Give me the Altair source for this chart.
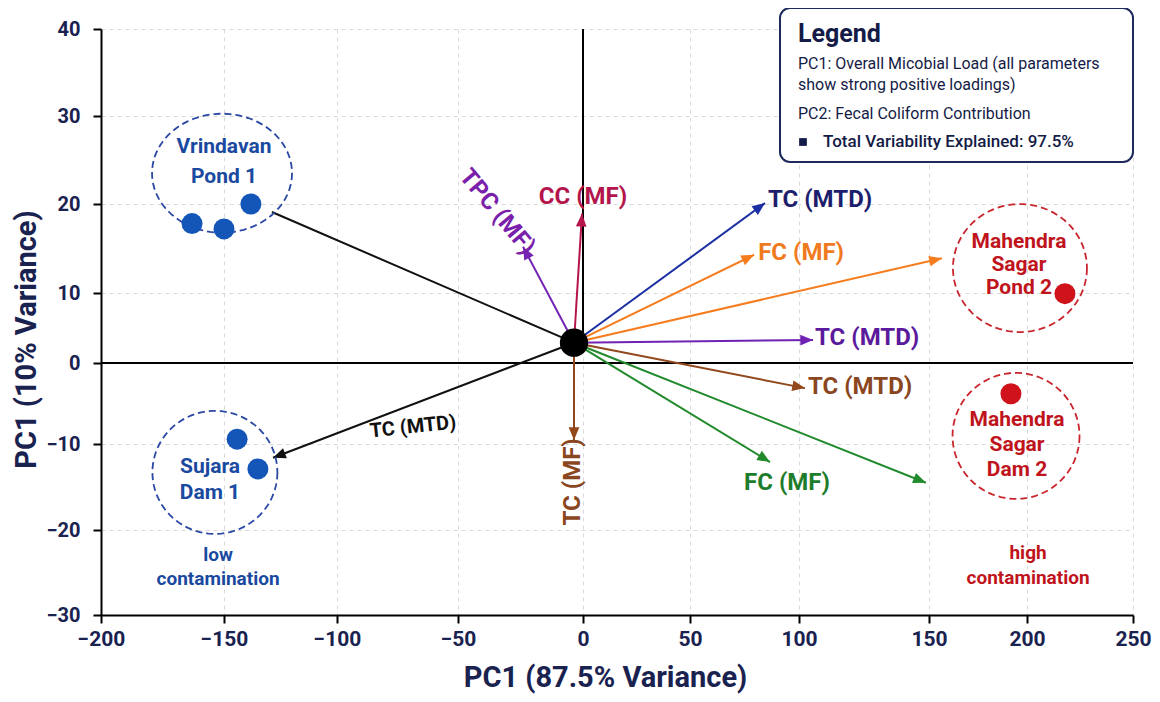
import math
import numpy as np
import pandas as pd
import altair as alt

# ---------------- data ----------------
X_TICKS = [-200, -150, -100, -50, 0, 50, 100, 150, 200, 250]
Y_TICKS = [-30, -20, -10, 0, 10, 20, 30, 40]
# the reference's tick marks are unevenly spaced: piecewise scale ranges (px inside plot)
X_RANGE = [0, 123, 236, 357, 482, 589, 698, 828, 926, 1032]
Y_RANGE = [586, 501, 415, 334, 264, 175, 87, 0]

ORIGIN_X = -3.6
ORIGIN_Y = 2.9

arrow_id = ["tpc_mf", "cc_mf", "tc_mtd_blue", "fc_mf_orange", "fc_orange_long",
            "tc_mtd_purple", "tc_mtd_brown", "fc_mf_green", "fc_green_long",
            "tc_mf_brown", "to_vrindavan", "to_sujara"]
arrow_x = [-24.0, -0.4, 84.4, 79.4, 156.6, 105.4, 102.3, 86.7, 148.8, -3.6, -128.8, -128.3]
arrow_y = [15.2, 18.9, 20.1, 14.3, 13.9, 3.3, -3.1, -12.1, -14.5, -9.5, 19.1, -11.6]
arrow_head = [True, True, True, True, True, True, True, True, True, True, False, True]

label_text = ["TPC (MF)", "CC (MF)", "TC (MTD)", "FC (MF)", "TC (MTD)", "TC (MTD)",
              "FC (MF)", "TC (MF)", "TC (MTD)"]
label_arrow = ["tpc_mf", "cc_mf", "tc_mtd_blue", "fc_mf_orange", "tc_mtd_purple",
               "tc_mtd_brown", "fc_mf_green", "tc_mf_brown", "to_sujara"]
label_x = [-34.4, 0.0, 108.1, 100.8, 126.2, 123.5, 94.5, -4.0, -68.6]
label_y = [19.1, 20.8, 20.45, 14.5, 3.6, -3.0, -14.5, -14.4, -7.9]
label_angle = [50, 0, 0, 0, 0, 0, 0, 270, 354]

site_name = ["Vrindavan Pond 1", "Vrindavan Pond 1", "Vrindavan Pond 1",
             "Sujara Dam 1", "Sujara Dam 1", "Mahendra Sagar Pond 2", "Mahendra Sagar Dam 2"]
site_group = ["low", "low", "low", "low", "low", "high", "high"]
site_pc1 = [-138.1, -163.0, -150.0, -144.2, -135.0, 217.9, 191.8]
site_pc2 = [20.0, 17.8, 17.2, -9.4, -12.9, 9.9, -3.8]

cluster_name = ["Vrindavan Pond 1", "Sujara Dam 1", "Mahendra Sagar Pond 2", "Mahendra Sagar Dam 2"]
cluster_group = ["low", "low", "high", "high"]
cluster_x = [-150.8, -153.7, 196.4, 194.4]
cluster_y = [23.5, -13.3, 12.8, -9.0]

cluster_label = ["Vrindavan\nPond 1", "Sujara\nDam 1", "low\ncontamination",
                 "Mahendra\nSagar\nPond 2", "Mahendra\nSagar\nDam 2", "high\ncontamination"]
cluster_label_group = ["low", "low", "low", "high", "high", "high"]
# anchor = first line of each label
cluster_label_x = [-150.0, -155.7, -152.4, 195.9, 194.9, 200.5]
cluster_label_y = [26.5, -12.7, -22.9, 15.7, -7.0, -22.7]

legend_title = "Legend"
legend_lines = ["PC1: Overall Micobial Load (all parameters",
                "show strong positive loadings)",
                "PC2: Fecal Coliform Contribution"]
legend_total = "Total Variability Explained: 97.5%"

# ---------------- styles ----------------
W, H = 1032, 586
FONT = "Roboto, 'Liberation Sans', sans-serif"
NAVY = "#1a2250"
BLUE, BLUE_TXT, BLUE_RING = "#1456b8", "#1a4aa0", "#2a48a3"
RED, RED_TXT, RED_RING = "#d0121b", "#c0141c", "#c8252d"

ARROW_COLOR = {
    "tpc_mf": "#7424b4", "cc_mf": "#b5154c", "tc_mtd_blue": "#1c2fa2",
    "fc_mf_orange": "#f57d1f", "fc_orange_long": "#f57d1f", "tc_mtd_purple": "#7022b3",
    "tc_mtd_brown": "#92481c", "fc_mf_green": "#218a2c", "fc_green_long": "#218a2c",
    "tc_mf_brown": "#92481c", "to_vrindavan": "#111111", "to_sujara": "#111111",
}
LABEL_COLOR = {
    "tpc_mf": "#7a20aa", "cc_mf": "#b3154c", "tc_mtd_blue": "#1d1f6e",
    "fc_mf_orange": "#f07a20", "tc_mtd_purple": "#5b1a9c", "tc_mtd_brown": "#8a461e",
    "fc_mf_green": "#1e7d2b", "tc_mf_brown": "#8a461e", "to_sujara": "#111111",
}
LABEL_SIZE = {"to_sujara": 20}
GROUP_POINT = {"low": BLUE, "high": RED}
GROUP_TEXT = {"low": BLUE_TXT, "high": RED_TXT}
GROUP_RING = {"low": BLUE_RING, "high": RED_RING}
RING_PX = {"Vrindavan Pond 1": (140, 119), "Sujara Dam 1": (125, 123),
           "Mahendra Sagar Pond 2": (134, 128), "Mahendra Sagar Dam 2": (127, 126)}
CL_LINE_H = [30, 26, 24, 23, 25, 25]
CL_FONT = [21, 21, 19, 21, 21, 19]


def px_x(v):
    return float(np.interp(v, X_TICKS, X_RANGE))


def px_y(v):
    return float(np.interp(v, Y_TICKS, Y_RANGE))


def ellipse_path(ratio, n=90):
    pts = []
    for i in range(n):
        t = 2 * math.pi * i / n
        pts.append(f"{math.cos(t):.4f},{ratio * math.sin(t):.4f}")
    return "M" + " L".join(pts) + " Z"


xs = alt.Scale(domain=X_TICKS, range=X_RANGE, nice=False, zero=False)
ys = alt.Scale(domain=Y_TICKS, range=Y_RANGE, nice=False, zero=False)

AX_X = alt.Axis(values=X_TICKS, title="PC1 (87.5% Variance)", grid=True, gridDash=[4, 4],
                gridColor="#d9d9d9", gridWidth=1, domainColor="black", domainWidth=2,
                tickColor="black", tickWidth=2, tickSize=8, labelOverlap=False, labelFlush=False,
                labelFont=FONT, labelFontSize=21, labelFontWeight="bold", labelColor=NAVY,
                labelPadding=5, titleFont=FONT, titleFontSize=29, titleFontWeight="bold",
                titleColor=NAVY, titleX=504, titleY=62, titleBaseline="middle", titleAlign="center")
AX_Y = alt.Axis(values=Y_TICKS, title="PC1 (10% Variance)", grid=True, gridDash=[4, 4],
                gridColor="#d9d9d9", gridWidth=1, domainColor="black", domainWidth=2,
                tickColor="black", tickWidth=2, tickSize=8, labelOverlap=False,
                labelFont=FONT, labelFontSize=20, labelFontWeight="bold", labelColor=NAVY,
                labelPadding=13, titleFont=FONT, titleFontSize=29, titleFontWeight="bold",
                titleColor=NAVY, titleAngle=270, titleX=-75, titleY=310,
                titleBaseline="middle", titleAlign="center")


def X(f):
    return alt.X(f"{f}:Q", scale=xs, axis=AX_X)


def Y(f):
    return alt.Y(f"{f}:Q", scale=ys, axis=AX_Y)


# ---------------- tables ----------------
arrows = pd.DataFrame({"id": arrow_id, "x": ORIGIN_X, "y": ORIGIN_Y,
                       "x2": arrow_x, "y2": arrow_y, "head": arrow_head})
arrows["color"] = arrows["id"].map(ARROW_COLOR)
angles = []
for tx, ty in zip(arrow_x, arrow_y):
    dx = px_x(tx) - px_x(ORIGIN_X)
    dy = px_y(ty) - px_y(ORIGIN_Y)
    angles.append(math.degrees(math.atan2(dx, -dy)) % 360)
arrows["angle"] = angles
heads = arrows[arrows["head"]].copy()

labels = pd.DataFrame({"text": label_text, "x": label_x, "y": label_y, "angle": label_angle})
labels["color"] = [LABEL_COLOR[a] for a in label_arrow]
labels["fs"] = [LABEL_SIZE.get(a, 24) for a in label_arrow]

sites = pd.DataFrame({"site": site_name, "x": site_pc1, "y": site_pc2})
sites["color"] = [GROUP_POINT[g] for g in site_group]

rings = pd.DataFrame({"site": cluster_name, "x": cluster_x, "y": cluster_y})
rings["color"] = [GROUP_RING[g] for g in cluster_group]
rings["path"] = [ellipse_path(RING_PX[n][1] / RING_PX[n][0]) for n in cluster_name]
rings["sz"] = [RING_PX[n][0] ** 2 for n in cluster_name]

clabels = pd.DataFrame({"text": cluster_label, "x": cluster_label_x, "y": cluster_label_y})
clabels["color"] = [GROUP_TEXT[g] for g in cluster_label_group]

origin = pd.DataFrame({"x": [ORIGIN_X], "y": [ORIGIN_Y]})
zero_h = pd.DataFrame({"x": [X_TICKS[0]], "x2": [X_TICKS[-1]], "y": [0]})
zero_v = pd.DataFrame({"x": [0], "y": [ORIGIN_Y], "y2": [Y_TICKS[-1]]})

# ---------------- layers ----------------
hline = alt.Chart(zero_h).mark_rule(color="black", strokeWidth=2).encode(
    x=X("x"), x2="x2", y=Y("y"))
vline = alt.Chart(zero_v).mark_rule(color="black", strokeWidth=2).encode(
    x=X("x"), y=Y("y"), y2="y2")

arrow_lines = alt.Chart(arrows).mark_rule(strokeWidth=2).encode(
    x=X("x"), y=Y("y"), x2="x2", y2="y2", color=alt.Color("color:N", scale=None))

HEAD = "M0,0 L-0.42,1 L0.42,1 Z"
arrow_heads = alt.Chart(heads).mark_point(shape=HEAD, filled=True, size=650, opacity=1,
                                           strokeWidth=0).encode(
    x=X("x2"), y=Y("y2"), angle=alt.Angle("angle:Q", scale=None),
    color=alt.Color("color:N", scale=None))

center = alt.Chart(origin).mark_point(shape="circle", filled=True, size=800, opacity=1,
                                      color="black").encode(x=X("x"), y=Y("y"))

ring_layer = alt.Chart(rings).mark_point(filled=False, strokeWidth=1.8, strokeDash=[7, 4],
                                         opacity=1).encode(
    x=X("x"), y=Y("y"), shape=alt.Shape("path:N", scale=None),
    size=alt.Size("sz:Q", scale=None), color=alt.Color("color:N", scale=None))

site_layer = alt.Chart(sites).mark_point(shape="circle", filled=True, size=441, opacity=1).encode(
    x=X("x"), y=Y("y"), color=alt.Color("color:N", scale=None))

arrow_text = alt.Chart(labels).mark_text(font=FONT, fontWeight="bold",
                                         align="center", baseline="middle").encode(
    x=X("x"), y=Y("y"), text="text:N", angle=alt.Angle("angle:Q", scale=None),
    size=alt.Size("fs:Q", scale=None), color=alt.Color("color:N", scale=None))

cl_layers = []
for i in range(len(cluster_label)):
    cl_layers.append(
        alt.Chart(clabels.iloc[[i]]).mark_text(
            font=FONT, fontSize=CL_FONT[i], fontWeight="bold", align="center",
            baseline="middle", lineBreak="\n", lineHeight=CL_LINE_H[i]).encode(
            x=X("x"), y=Y("y"), text="text:N", color=alt.Color("color:N", scale=None))
    )

# legend box (annotation in pixel space)
box = alt.Chart(pd.DataFrame({"k": [0]})).mark_rect(
    fill="white", stroke="#1c2a5c", strokeWidth=2, cornerRadius=10).encode(
    x=alt.value(679), x2=alt.value(1032), y=alt.value(-21), y2=alt.value(133))
leg_title = alt.Chart(pd.DataFrame({"t": [legend_title]})).mark_text(
    font=FONT, fontSize=25, fontWeight="bold", align="left", baseline="alphabetic",
    color="#141b46").encode(x=alt.value(697), y=alt.value(13), text="t:N")
leg_lines = alt.Chart(pd.DataFrame({"t": legend_lines, "py": [40, 61, 90]})).mark_text(
    font=FONT, fontSize=16, align="left", baseline="alphabetic", color="#141b46").encode(
    x=alt.value(697), y=alt.Y("py:Q", scale=None), text="t:N")
leg_sq = alt.Chart(pd.DataFrame({"k": [0]})).mark_point(
    shape="square", filled=True, size=60, opacity=1, color="#141b46").encode(
    x=alt.value(702), y=alt.value(113))
leg_total = alt.Chart(pd.DataFrame({"t": [legend_total]})).mark_text(
    font=FONT, fontSize=17, fontWeight=500, align="left", baseline="alphabetic",
    color="#141b46").encode(x=alt.value(722), y=alt.value(118), text="t:N")

chart = alt.layer(
    hline, vline, arrow_lines, arrow_heads, center, ring_layer, site_layer,
    arrow_text, *cl_layers, box, leg_title, leg_lines, leg_sq, leg_total
).properties(
    width=W, height=H,
    autosize=alt.AutoSizeParams(type="none"),
    padding={"left": 93, "top": 21, "right": 19, "bottom": 79},
).configure_view(stroke=None)

chart.save("out.html", embed_options={"renderer": "svg", "actions": False})
